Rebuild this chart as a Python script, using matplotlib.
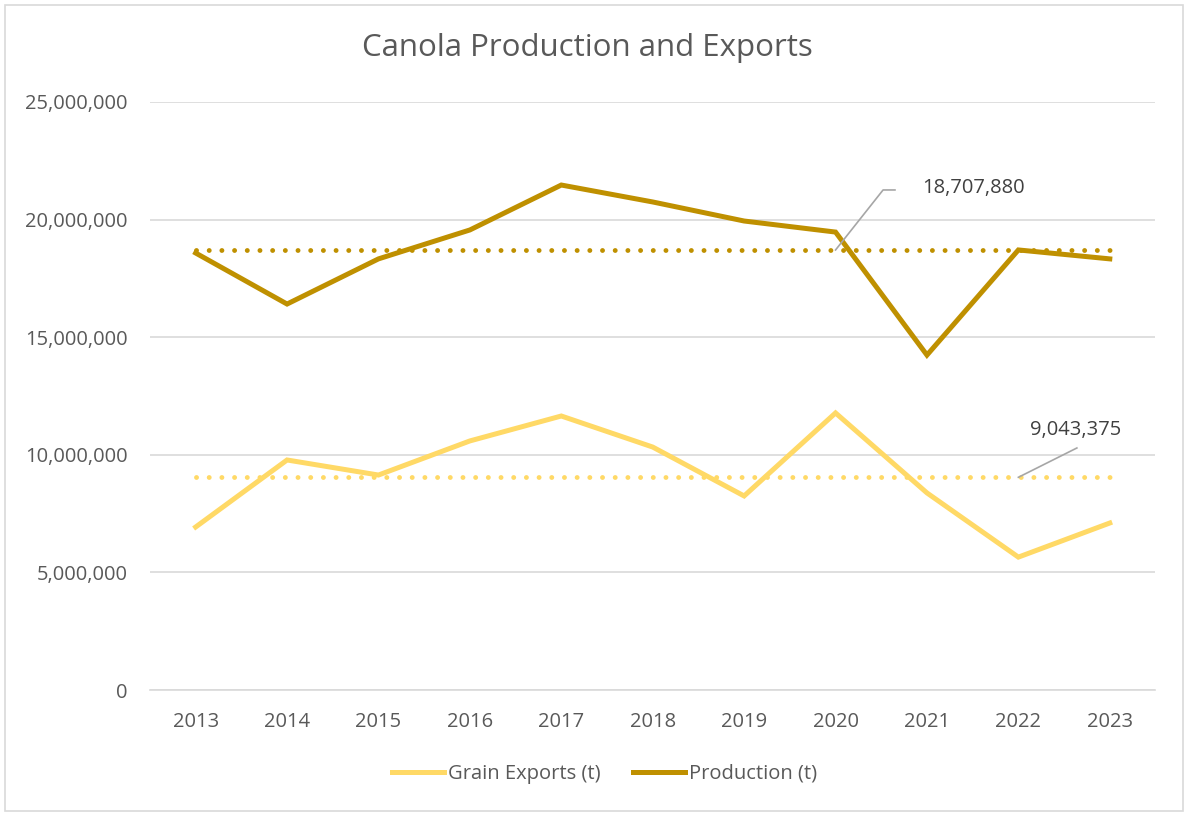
import matplotlib.pyplot as plt
from matplotlib.patches import Rectangle
from matplotlib.ticker import FuncFormatter
import numpy as np

plt.rcParams['font.family'] = ['Open Sans', 'DejaVu Sans']

years = ['2013', '2014', '2015', '2016', '2017', '2018', '2019', '2020', '2021', '2022', '2023']
production = [18580000, 16410000, 18330000, 19560000, 21470000, 20750000,
              19940000, 19470000, 14240000, 18710000, 18330000]
exports = [6930000, 9780000, 9140000, 10590000, 11650000, 10330000,
           8250000, 11780000, 8380000, 5650000, 7100000]
prod_avg = 18707880
exp_avg = 9043375

c_prod = '#BF9000'
c_exp = '#FFD966'
grey = '#595959'

x = np.arange(len(years))

fig = plt.figure(figsize=(11.9, 8.16), dpi=100)
ax = fig.add_axes([0.126, 0.1544, 0.845, 0.7206])

ax.plot(x, exports, color=c_exp, lw=3.6, solid_joinstyle='miter', label='Grain Exports (t)', zorder=3)
ax.plot(x, production, color=c_prod, lw=3.6, solid_joinstyle='miter', label='Production (t)', zorder=3)
ax.plot(x, [exp_avg] * len(x), color=c_exp, lw=3.5, linestyle=(0, (0.01, 2.6)),
        dash_capstyle='round', zorder=2)
ax.plot(x, [prod_avg] * len(x), color=c_prod, lw=3.5, linestyle=(0, (0.01, 2.6)),
        dash_capstyle='round', zorder=2)

ax.set_xlim(-0.5, len(x) - 0.5)
ax.set_ylim(0, 25000000)
ax.set_yticks(np.arange(0, 25000001, 5000000))
ax.yaxis.set_major_formatter(FuncFormatter(lambda v, p: '{:,.0f}'.format(v)))
ax.set_xticks(x)
ax.set_xticklabels(years)
ax.grid(axis='y', color='#d9d9d9', lw=1.2)
ax.set_axisbelow(True)
for s in ['top', 'right', 'left']:
    ax.spines[s].set_visible(False)
ax.spines['bottom'].set_color('#d9d9d9')
ax.spines['bottom'].set_linewidth(1.2)
ax.tick_params(length=0, labelsize=14.5, labelcolor=grey)
ax.tick_params(axis='x', pad=16)
ax.tick_params(axis='y', pad=16)

# average labels with leader lines
ax.plot([7, 7.52, 7.65], [prod_avg, 21260000, 21260000], color='#a6a6a6', lw=1.2, zorder=4)
ax.text(7.95, 21340000, '{:,}'.format(prod_avg), fontsize=14.5, color='#404040',
        va='center', ha='left')
ax.plot([9, 9.64], [exp_avg, 10290000], color='#a6a6a6', lw=1.2, zorder=4)
ax.text(9.63, 11050000, '{:,}'.format(exp_avg), fontsize=14.5, color='#404040',
        va='center', ha='center')

fig.suptitle('Canola Production and Exports', x=0.494, y=0.96, fontsize=22.5, color=grey)

ax.legend(loc='upper center', bbox_to_anchor=(0.452, -0.095), ncol=2, frameon=False,
          fontsize=14.5, labelcolor=grey, handlelength=2.6, handletextpad=0.2,
          columnspacing=1.6)

fig.add_artist(Rectangle((0.004, 0.006), 0.99, 0.988, transform=fig.transFigure,
                         fill=False, edgecolor='#d9d9d9', lw=1.2))

plt.savefig('out.png')
